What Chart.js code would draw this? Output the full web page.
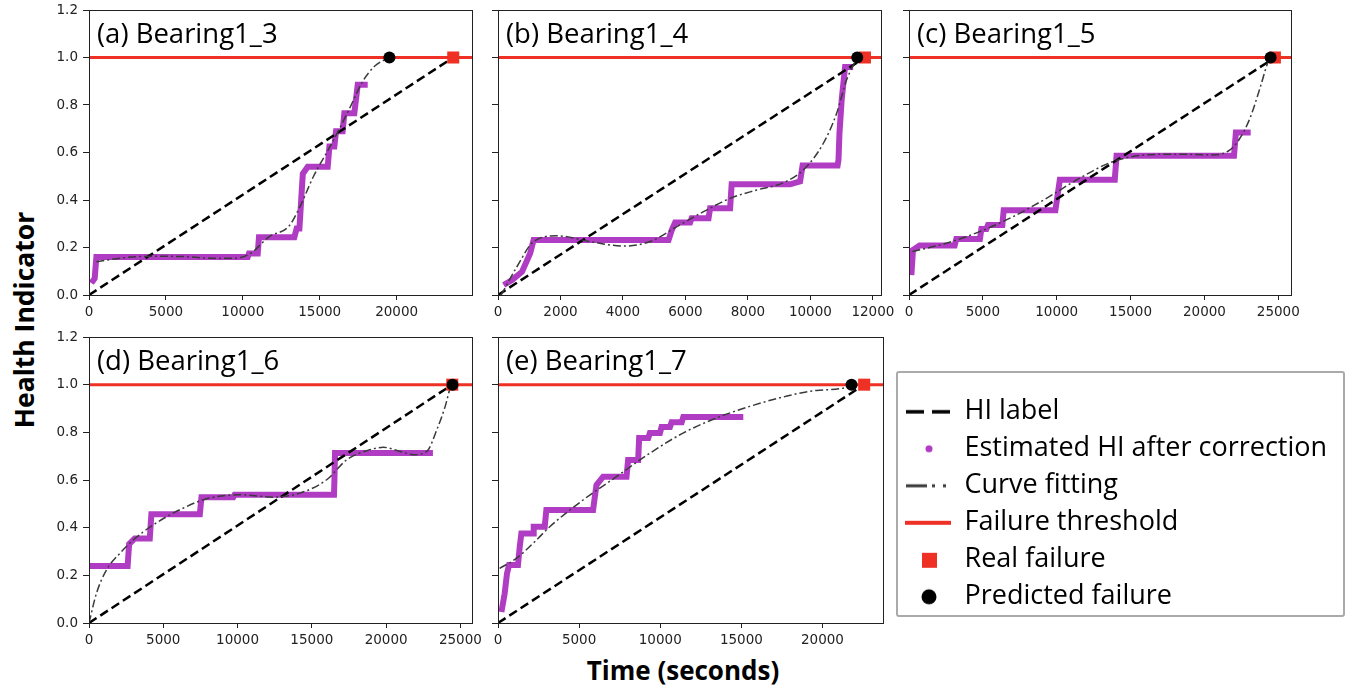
<!DOCTYPE html>
<html>
<head>
<meta charset="utf-8">
<script src="https://cdn.jsdelivr.net/npm/chart.js@4.4.1/dist/chart.umd.min.js"></script>
<style>
  body { margin: 0; background: #fff; width: 1355px; height: 690px; position: relative; overflow: hidden; }
  .panel { position: absolute; }
  .axtitle { position: absolute; font-family: 'Open Sans', sans-serif; font-weight: bold; color: #000; white-space: nowrap; }
  #ylab { left: 24px; top: 320px; font-size: 26.5px; line-height: 26.5px; transform: translate(-50%, -50%) rotate(-90deg); }
  #xlab { left: 683px; top: 657px; font-size: 26px; line-height: 26px; transform: translate(-50%, 0); }
  #legendBox { position: absolute; left: 896px; top: 371px; width: 445px; height: 242px; border: 2px solid #aaa; border-radius: 3px; overflow: hidden; }
  #legend { position: absolute; left: -3px; top: 0; }
</style>
</head>
<body>
<div class="axtitle" id="ylab">Health Indicator</div>
<div class="axtitle" id="xlab">Time (seconds)</div>
<div id="legendBox"><canvas id="legend" width="448" height="520"></canvas></div>
<script>
// panel labels and failure times (seconds)
const panelNames = ['(a) Bearing1_3', '(b) Bearing1_4', '(c) Bearing1_5', '(d) Bearing1_6', '(e) Bearing1_7'];
const realFailure = [23680, 11746, 24770, 24450, 22570];
const predictedFailure = [19530, 11500, 24480, 24470, 21790];
const threshold = 1.0;

// tick values
const xTicksA = [0, 5000, 10000, 15000, 20000];
const xTicksB = [0, 2000, 4000, 6000, 8000, 10000, 12000];
const xTicksC = [0, 5000, 10000, 15000, 20000, 25000];
const xTicksD = [0, 5000, 10000, 15000, 20000, 25000];
const xTicksE = [0, 5000, 10000, 15000, 20000];
const yTicks = [0, 0.2, 0.4, 0.6, 0.8, 1.0, 1.2];

// estimated HI after correction, [time, HI]
const estA = [[150,0.05],[370,0.07],[480,0.16],[10320,0.16],[10400,0.175],[10970,0.175],[11050,0.243],[13350,0.243],[13500,0.28],[13680,0.28],[13900,0.51],[14220,0.54],[15520,0.54],[15630,0.625],[15950,0.625],[16060,0.69],[16490,0.69],[16600,0.765],[17250,0.765],[17470,0.885],[18120,0.885]];
const estB = [[180,0.042],[450,0.063],[770,0.098],[1030,0.176],[1140,0.232],[5460,0.232],[5565,0.274],[5670,0.305],[6150,0.305],[6200,0.323],[6740,0.323],[6790,0.365],[7430,0.365],[7480,0.466],[9350,0.466],[9670,0.478],[9750,0.545],[10870,0.545],[10900,0.57],[10930,0.68],[11000,0.82],[11110,0.96],[11370,0.96]];
const estC = [[160,0.084],[270,0.19],[720,0.208],[3090,0.208],[3200,0.236],[4800,0.236],[4900,0.278],[5240,0.278],[5350,0.295],[6320,0.295],[6410,0.357],[9910,0.357],[10030,0.407],[10210,0.485],[13930,0.485],[14050,0.586],[22000,0.586],[22130,0.684],[23130,0.684]];
const estD = [[0,0.239],[2600,0.239],[2700,0.331],[3080,0.355],[4090,0.355],[4200,0.456],[7460,0.456],[7570,0.528],[9710,0.528],[9800,0.538],[16490,0.538],[16520,0.6],[16560,0.713],[23150,0.713]];
const estE = [[210,0.046],[410,0.123],[555,0.208],[680,0.243],[1230,0.243],[1340,0.32],[1440,0.376],[2160,0.376],[2200,0.404],[2880,0.404],[2980,0.474],[5860,0.474],[5970,0.53],[6070,0.579],[6480,0.614],[7920,0.614],[8020,0.684],[8640,0.684],[8700,0.776],[9260,0.776],[9360,0.797],[9980,0.797],[10080,0.822],[10600,0.822],[10700,0.842],[11320,0.842],[11420,0.864],[15120,0.864]];

// curve fitting, [time, HI]
const fitA = [[480,0.14],[2000,0.155],[4000,0.163],[6000,0.162],[8000,0.155],[9500,0.155],[10500,0.175],[11700,0.245],[13000,0.29],[13700,0.37],[14600,0.5],[15800,0.64],[16900,0.78],[17800,0.9],[18600,0.965],[19530,1.0]];
const fitB = [[100,0.0],[610,0.12],[1140,0.225],[1890,0.249],[2950,0.225],[4020,0.206],[4870,0.225],[5730,0.288],[6580,0.351],[7430,0.407],[8280,0.442],[9140,0.473],[9780,0.527],[10420,0.64],[10840,0.765],[11160,0.906],[11500,1.0]];
const fitC = [[230,0.183],[2530,0.218],[4790,0.267],[7050,0.33],[9300,0.407],[11560,0.492],[13820,0.562],[16080,0.59],[18340,0.593],[20600,0.59],[21730,0.611],[22400,0.66],[23080,0.744],[23760,0.871],[24320,0.983],[24480,1.0]];
const fitD = [[0,0],[500,0.124],[1170,0.222],[2070,0.292],[2970,0.348],[4310,0.411],[6110,0.475],[7910,0.521],[10160,0.538],[12400,0.528],[14200,0.545],[16000,0.601],[17350,0.685],[18700,0.723],[19820,0.737],[20940,0.72],[21840,0.706],[22740,0.72],[23420,0.812],[23980,0.91],[24360,0.994],[24470,1.0]];
const fitE = [[100,0.229],[1130,0.271],[2160,0.334],[3190,0.404],[5240,0.516],[7300,0.614],[9350,0.712],[11410,0.797],[13460,0.86],[15520,0.909],[17570,0.948],[19630,0.976],[21690,0.993],[21790,1.0]];

const estimated = [estA, estB, estC, estD, estE];
const fitted = [fitA, fitB, fitC, fitD, fitE];
const xTicks = [xTicksA, xTicksB, xTicksC, xTicksD, xTicksE];

const purple = '#b03cc3';
const red = '#ee3124';

// plot areas on the page and axis ranges
const boxes = [
  {l: 89,  t: 10,  r: 472,  b: 295, xMax: 24900, yLabels: true},
  {l: 498, t: 10,  r: 881,  b: 295, xMax: 12260, yLabels: false},
  {l: 909, t: 10,  r: 1291, b: 295, xMax: 25860, yLabels: false},
  {l: 89,  t: 337, r: 472,  b: 623, xMax: 25780, yLabels: true},
  {l: 498, t: 337, r: 883,  b: 623, xMax: 23730, yLabels: false}
];
const YW = 60, XH = 30, PT = 12, PR = 30;

const pts = arr => arr.map(p => ({x: p[0], y: p[1]}));

const frame = {
  id: 'frame',
  afterDatasetsDraw(chart, args, opts) {
    const {ctx, chartArea: a} = chart;
    ctx.save();
    ctx.strokeStyle = '#222';
    ctx.lineWidth = 1;
    ctx.strokeRect(a.left + 0.5, a.top + 0.5, a.right - a.left, a.bottom - a.top);
    ctx.font = '27.5px "Open Sans"';
    ctx.fillStyle = '#000';
    ctx.textBaseline = 'alphabetic';
    ctx.fillText(opts.label, a.left + 8, a.top + 33);
    ctx.restore();
  }
};

const tickFont = {family: 'DejaVu Sans', size: 13.5};

boxes.forEach((bx, i) => {
  const div = document.createElement('div');
  div.className = 'panel';
  const w = bx.r - bx.l + YW + PR, h = bx.b - bx.t + PT + XH;
  div.style.left = (bx.l - YW) + 'px';
  div.style.top = (bx.t - PT) + 'px';
  const cv = document.createElement('canvas');
  cv.width = w; cv.height = h;
  div.appendChild(cv);
  document.body.appendChild(div);

  new Chart(cv, {
    type: 'scatter',
    data: {
      datasets: [
        {label: 'Estimated HI after correction', data: pts(estimated[i]), showLine: true, borderColor: purple, borderWidth: 6, pointRadius: 0, order: 6},
        {label: 'HI label', data: [{x: 0, y: 0}, {x: realFailure[i], y: threshold}], showLine: true, borderColor: '#000', borderWidth: 2.5, borderDash: [9, 4.5], pointRadius: 0, order: 5},
        {label: 'Curve fitting', data: pts(fitted[i]), showLine: true, borderColor: '#3a3a3a', borderWidth: 1.5, borderDash: [8, 3, 2, 3], pointRadius: 0, cubicInterpolationMode: 'monotone', order: 4},
        {label: 'Failure threshold', data: [{x: 0, y: threshold}, {x: bx.xMax, y: threshold}], showLine: true, borderColor: red, borderWidth: 3, pointRadius: 0, order: 3},
        {label: 'Real failure', data: [{x: realFailure[i], y: threshold}], pointStyle: 'rect', pointRadius: 8.5, backgroundColor: red, borderWidth: 0, order: 2},
        {label: 'Predicted failure', data: [{x: predictedFailure[i], y: threshold}], pointStyle: 'circle', pointRadius: 6, backgroundColor: '#000', borderWidth: 0, order: 1}
      ]
    },
    options: {
      responsive: false,
      animation: false,
      events: [],
      layout: {padding: {left: 0, top: PT, right: PR, bottom: 0}},
      plugins: {legend: {display: false}, tooltip: {enabled: false}, frame: {label: panelNames[i]}},
      scales: {
        x: {
          type: 'linear', min: 0, max: bx.xMax,
          afterBuildTicks(s) { s.ticks = xTicks[i].map(v => ({value: v})); },
          afterFit(s) { s.height = XH; s.paddingLeft = 0; s.paddingRight = 0; },
          ticks: {maxRotation: 0, autoSkip: false, color: '#222', font: tickFont, padding: 4, callback: v => String(v)},
          grid: {drawOnChartArea: false, drawTicks: true, tickLength: 5, tickColor: '#222', color: '#222'},
          border: {display: false}
        },
        y: {
          type: 'linear', min: 0, max: 1.2,
          afterBuildTicks(s) { s.ticks = yTicks.map(v => ({value: v})); },
          afterFit(s) { s.width = YW; s.paddingTop = 0; s.paddingBottom = 0; },
          ticks: {display: bx.yLabels, color: '#222', font: tickFont, padding: 5, callback: v => v.toFixed(1)},
          grid: {drawOnChartArea: false, drawTicks: true, tickLength: 6, tickColor: '#222', color: '#222'},
          border: {display: false}
        }
      }
    },
    plugins: [frame]
  });
});

// legend handles
function handle(draw) {
  const c = document.createElement('canvas');
  c.width = 46; c.height = 22;
  const g = c.getContext('2d');
  draw(g);
  return c;
}
const legendItems = [
  {text: 'HI label', pointStyle: handle(g => {
    g.strokeStyle = '#000'; g.lineWidth = 3.5; g.setLineDash([18, 8]);
    g.beginPath(); g.moveTo(1, 11); g.lineTo(45, 11); g.stroke();
  })},
  {text: 'Estimated HI after correction', pointStyle: handle(g => {
    g.fillStyle = purple; g.beginPath(); g.arc(24, 11, 3.5, 0, Math.PI * 2); g.fill();
  })},
  {text: 'Curve fitting', pointStyle: handle(g => {
    g.strokeStyle = '#3a3a3a'; g.lineWidth = 3; g.setLineDash([21, 5, 3, 8, 3, 5]);
    g.beginPath(); g.moveTo(1, 11); g.lineTo(45, 11); g.stroke();
  })},
  {text: 'Failure threshold', pointStyle: handle(g => {
    g.strokeStyle = red; g.lineWidth = 4;
    g.beginPath(); g.moveTo(0, 11); g.lineTo(46, 11); g.stroke();
  })},
  {text: 'Real failure', pointStyle: handle(g => {
    g.fillStyle = red; g.fillRect(17, 4, 15, 15);
  })},
  {text: 'Predicted failure', pointStyle: handle(g => {
    g.fillStyle = '#000'; g.beginPath(); g.arc(24, 11, 7.5, 0, Math.PI * 2); g.fill();
  })}
].map(it => Object.assign({fillStyle: 'rgba(0,0,0,0)', strokeStyle: 'rgba(0,0,0,0)', lineWidth: 0, hidden: false, fontColor: '#000'}, it));

new Chart(document.getElementById('legend'), {
  type: 'scatter',
  data: {datasets: []},
  options: {
    responsive: false,
    animation: false,
    events: [],
    layout: {padding: {top: 15.3, left: 0, right: 0}},
    scales: {x: {display: false}, y: {display: false}},
    plugins: {
      tooltip: {enabled: false},
      legend: {
        display: true, position: 'top', align: 'start',
        labels: {
          usePointStyle: true, pointStyleWidth: 46, boxWidth: 46, boxHeight: 20, padding: 10,
          color: '#000', font: {family: 'Open Sans', size: 27},
          generateLabels: () => legendItems
        }
      }
    }
  }
});
</script>
</body>
</html>
